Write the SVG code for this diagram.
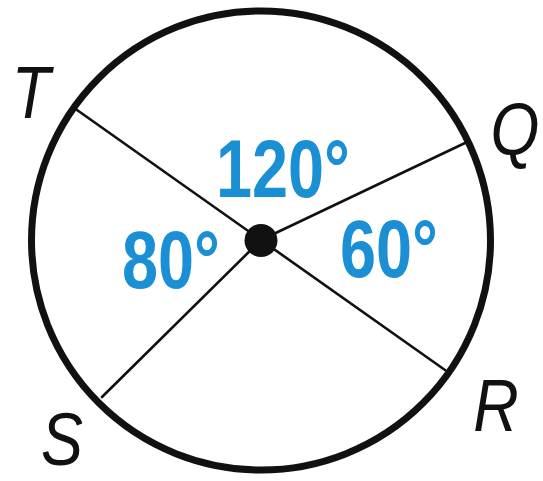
<svg xmlns="http://www.w3.org/2000/svg" width="543" height="481" viewBox="0 0 543 481">
  <style>
    .pt { font-family: "Liberation Sans", Arial, sans-serif; font-style: italic; font-size: 74px; fill: #111; text-anchor: middle; }
    .deg { font-family: "Liberation Sans", Arial, sans-serif; font-weight: bold; font-size: 81px; fill: #1b8fd4; }
    .ray { stroke: #111; stroke-width: 2.6; fill: none; stroke-linecap: round; }
  </style>
  <rect width="543" height="481" fill="#fff"/>
  <g id="circle">
    <circle cx="261" cy="240.5" r="229.5" fill="none" stroke="#111" stroke-width="7"/>
  </g>
  <g id="connectors">
    <line class="ray" x1="261" y1="240" x2="77" y2="110"/>
    <line class="ray" x1="261" y1="240" x2="465" y2="143"/>
    <line class="ray" x1="261" y1="240" x2="102" y2="397"/>
    <line class="ray" x1="261" y1="240" x2="445" y2="370"/>
  </g>
  <g id="center">
    <circle cx="261" cy="240.5" r="16.5" fill="#111"/>
  </g>
  <g id="labels">
    <text class="pt" transform="translate(31,118) scale(0.85,1)">T</text>
    <text class="pt" transform="translate(515,155) scale(0.85,1)">Q</text>
    <text class="pt" transform="translate(496,431) scale(0.85,1)">R</text>
    <text class="pt" transform="translate(62,465) scale(0.85,1)">S</text>
  </g>
  <g id="arcs">
    <text class="deg" transform="translate(216,197) scale(0.8,1)">120°</text>
    <text class="deg" transform="translate(122,288) scale(0.8,1)">80°</text>
    <text class="deg" transform="translate(340,277) scale(0.8,1)">60°</text>
  </g>
</svg>
